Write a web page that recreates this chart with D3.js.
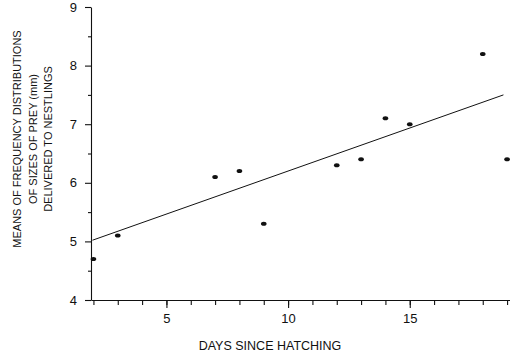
<!DOCTYPE html>
<html>
<head>
<meta charset="utf-8">
<script src="https://cdn.jsdelivr.net/npm/d3@7"></script>
<style>
  body { margin: 0; background: #fff; }
  svg { display: block; font-family: "Liberation Sans", Arial, sans-serif; }
  .axis path, .axis line { stroke: #111; stroke-width: 1.1; }
  .axis text { fill: #111; font-size: 13px; font-family: "Liberation Sans", Arial, sans-serif; }
</style>
</head>
<body>
<div id="chart"></div>
<script>
// days since hatching and mean prey size (mm)
const days = [2, 3, 7, 8, 9, 12, 13, 14, 15, 18, 19];
const preySize = [4.7, 5.1, 6.1, 6.2, 5.3, 6.3, 6.4, 7.1, 7.0, 8.2, 6.4];

// fitted line end points as drawn
const fitX = [1.96, 18.85];
const fitY = [5.02, 7.50];

const xMajor = [5, 10, 15];
const xMinor = d3.range(2, 20);
const yMajor = [4, 5, 6, 7, 8, 9];
const yMinor = [4.5, 5.5, 6.5, 7.5, 8.5];

const yLabelLines = [
    "MEANS OF FREQUENCY DISTRIBUTIONS",
    "OF SIZES OF PREY (mm)",
    "DELIVERED TO NESTLINGS"
];
const xLabel = "DAYS SINCE HATCHING";

const width = 510;
const height = 355;

const svg = d3.select("#chart").append("svg")
    .attr("width", width).attr("height", height)
    .attr("viewBox", [0, 0, width, height]);

const x = d3.scaleLinear().domain([1.9, 19.12]).range([91, 510]);
const y = d3.scaleLinear().domain([4, 9]).range([300, 7]);

// x axis
svg.append("g")
    .attr("class", "axis")
    .attr("transform", `translate(0,${y(4)})`)
    .call(d3.axisBottom(x).tickValues(xMinor).tickSize(5).tickSizeOuter(0).tickFormat(""));

svg.append("g")
    .attr("class", "axis")
    .attr("transform", `translate(0,${y(4)})`)
    .call(d3.axisBottom(x).tickValues(xMajor).tickSize(8).tickSizeOuter(0).tickPadding(6))
    .call(g => g.select(".domain").remove());

// y axis
svg.append("g")
    .attr("class", "axis")
    .attr("transform", `translate(${x(1.9)},0)`)
    .call(d3.axisLeft(y).tickValues(yMinor).tickSize(3).tickSizeOuter(0).tickFormat(""));

svg.append("g")
    .attr("class", "axis")
    .attr("transform", `translate(${x(1.9)},0)`)
    .call(d3.axisLeft(y).tickValues(yMajor).tickSize(6).tickSizeOuter(0).tickPadding(8).tickFormat(d3.format("d")))
    .call(g => g.select(".domain").remove());

// regression line
svg.append("line")
    .attr("x1", x(fitX[0])).attr("y1", y(fitY[0]))
    .attr("x2", x(fitX[1])).attr("y2", y(fitY[1]))
    .attr("stroke", "#111")
    .attr("stroke-width", 1);

// points
svg.append("g")
    .selectAll("ellipse")
    .data(days)
    .join("ellipse")
    .attr("cx", d => x(d))
    .attr("cy", (d, i) => y(preySize[i]))
    .attr("rx", 2.8)
    .attr("ry", 2)
    .attr("fill", "#111");

// axis titles
svg.append("text")
    .attr("x", 270).attr("y", 350)
    .attr("text-anchor", "middle")
    .attr("font-size", 12.5)
    .attr("fill", "#111")
    .text(xLabel);

const yTitle = svg.append("text")
    .attr("transform", "translate(0,139) rotate(-90)")
    .attr("text-anchor", "middle")
    .attr("font-size", 11)
    .attr("fill", "#111");

yTitle.selectAll("tspan")
    .data(yLabelLines)
    .join("tspan")
    .attr("x", 0)
    .attr("y", (d, i) => 21 + i * 15.5)
    .text(d => d);
</script>
</body>
</html>
